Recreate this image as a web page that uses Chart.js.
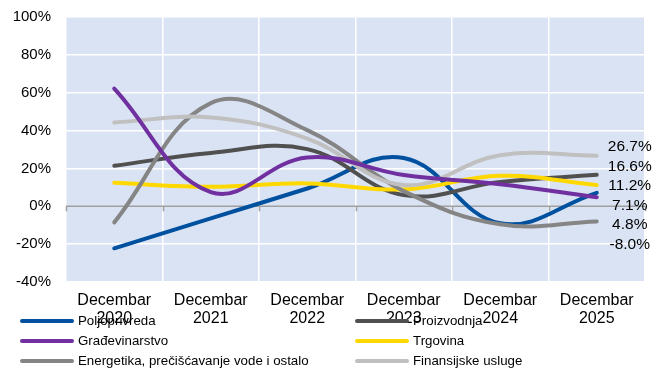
<!DOCTYPE html>
<html>
<head>
<meta charset="utf-8">
<script src="https://cdn.jsdelivr.net/npm/chart.js@4/dist/chart.umd.min.js"></script>
<style>
  html, body { margin: 0; padding: 0; background: #fff; }
  #wrap { width: 659px; height: 371px; position: relative; }
</style>
</head>
<body>
<div id="wrap"><canvas id="chart"></canvas></div>
<script>
// Data
const years = ["2020", "2021", "2022", "2023", "2024", "2025"];
const names = ["Poljoprivreda", "Proizvodnja", "Građevinarstvo", "Trgovina",
  "Energetika, prečišćavanje vode i ostalo", "Finansijske usluge"];
const poljoprivreda = [-22.2, -6.4, 9.4, 25.5, -9.0, 7.1];
const proizvodnja = [21.4, 28.2, 30.2, 5.9, 12.9, 16.6];
const gradjevinarstvo = [62.2, 7.5, 25.8, 16.5, 11.7, 4.8];
const trgovina = [12.4, 10.3, 12.1, 8.9, 16.1, 11.2];
const energetika = [-8.5, 54.5, 40.2, 8.0, -9.5, -8.0];
const finansije = [44.3, 46.9, 35.8, 11.2, 27.0, 26.7];
const colors = ["#0050a0", "#505050", "#7030a0", "#ffd800", "#858585", "#c0c0c0"];
const yTicks = [-40, -20, 0, 20, 40, 60, 80, 100];

const series = [poljoprivreda, proizvodnja, gradjevinarstvo, trgovina, energetika, finansije];
const FONT = "'Liberation Sans', Arial, sans-serif";

// plot background, zero axis with small ticks
const plotArea = {
  id: "plotArea",
  beforeDraw(chart) {
    const a = chart.chartArea, c = chart.ctx;
    c.save();
    c.fillStyle = "#dae3f3";
    c.fillRect(a.left, a.top, a.right - a.left, a.bottom - a.top);
    c.restore();
  },
  beforeDatasetsDraw(chart) {
    const a = chart.chartArea, c = chart.ctx;
    const y0 = chart.scales.y.getPixelForValue(0);
    c.save();
    c.strokeStyle = "#a0a0a0";
    c.lineWidth = 1.5;
    c.beginPath();
    c.moveTo(a.left, y0);
    c.lineTo(a.right, y0);
    const step = (a.right - a.left) / years.length;
    for (let i = 0; i <= years.length; i++) {
      const px = Math.round(a.left + i * step) + 0.5;
      c.moveTo(px, y0);
      c.lineTo(px, y0 + 5);
    }
    c.stroke();
    c.restore();
  }
};

// value labels at the end of each line, pushed apart so they don't overlap
const endLabels = {
  id: "endLabels",
  afterDatasetsDraw(chart) {
    const c = chart.ctx;
    const items = chart.data.datasets.map((ds, i) => {
      const pts = chart.getDatasetMeta(i).data;
      const p = pts[pts.length - 1];
      const v = ds.data[ds.data.length - 1];
      return { x: p.x, y: p.y - 9, text: v.toFixed(1) + "%" };
    }).sort((a, b) => a.y - b.y);
    for (let i = 1; i < items.length; i++) {
      if (items[i].y < items[i - 1].y + 19.5) items[i].y = items[i - 1].y + 19.5;
    }
    c.save();
    c.font = "15.5px " + FONT;
    c.fillStyle = "#000";
    c.textAlign = "center";
    c.textBaseline = "middle";
    items.forEach(it => c.fillText(it.text, it.x + 33, it.y));
    c.restore();
  }
};

// legend in two columns, drawn over the bottom of the chart
const legendBox = {
  id: "legendBox",
  afterDraw(chart) {
    const c = chart.ctx;
    c.save();
    c.font = "13.3px " + FONT;
    c.textBaseline = "middle";
    chart.data.datasets.forEach((ds, i) => {
      const col = i % 2, row = Math.floor(i / 2);
      const x = col ? 355 : 20;
      const y = 321 + row * 20;
      c.strokeStyle = ds.borderColor;
      c.lineWidth = 4;
      c.lineCap = "round";
      c.beginPath();
      c.moveTo(x + 2, y);
      c.lineTo(x + 52, y);
      c.stroke();
      c.fillStyle = "#000";
      c.fillText(ds.label, x + 58, y);
    });
    c.restore();
  }
};

new Chart(document.getElementById("chart"), {
  type: "line",
  data: {
    labels: years.map(y => ["Decembar", y]),
    datasets: series.map((d, i) => ({
      label: names[i],
      data: d,
      borderColor: colors[i],
      backgroundColor: colors[i],
      borderWidth: 4,
      pointRadius: 0,
      tension: 0.4,
      borderCapStyle: "round",
      order: i === 2 ? -1 : series.length - i
    }))
  },
  options: {
    responsive: true,
    maintainAspectRatio: false,
    animation: false,
    layout: { padding: { top: 17, right: 14, left: 0, bottom: 0 } },
    plugins: { legend: { display: false }, tooltip: { enabled: false } },
    scales: {
      x: {
        offset: true,
        border: { display: false },
        grid: { color: "#ffffff", lineWidth: 1.5, drawTicks: false, offset: true },
        ticks: {
          color: "#000",
          padding: 9,
          maxRotation: 0,
          font: { family: FONT, size: 16, lineHeight: 1.16 }
        },
        afterFit(s) { s.height = 89; }
      },
      y: {
        min: -40,
        max: 100,
        border: { display: false },
        grid: {
          color: ctx => ctx.tick && ctx.tick.value === 0 ? "rgba(0,0,0,0)" : "#ffffff",
          lineWidth: 1.5,
          drawTicks: false
        },
        afterBuildTicks(s) { s.ticks = yTicks.map(v => ({ value: v })); },
        ticks: {
          color: "#000",
          padding: 15,
          font: { family: FONT, size: 15 },
          callback: v => v + "%"
        },
        afterFit(s) {
          s.width = 66;
          s.paddingTop = 0;
          s.paddingBottom = 0;
        }
      }
    }
  },
  plugins: [plotArea, endLabels, legendBox]
});
</script>
</body>
</html>
